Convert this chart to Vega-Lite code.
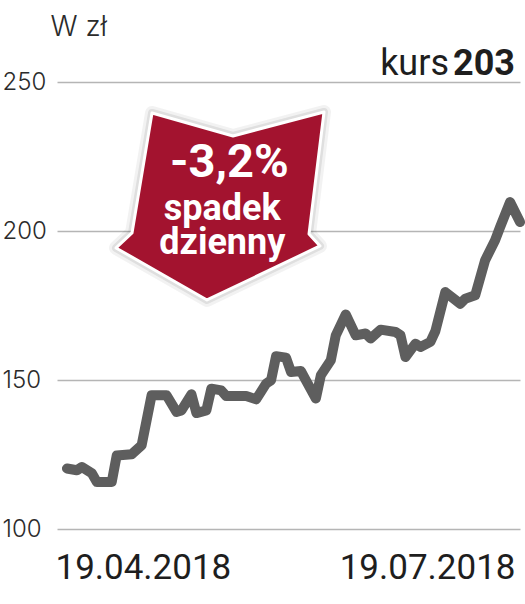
{
  "$schema": "https://vega.github.io/schema/vega-lite/v6.json",
  "autosize": {"type": "none"},
  "padding": {"left": 57, "top": 82, "right": 5, "bottom": 75},
  "width": 463,
  "height": 447,
  "background": "white",
  "config": {"view": {"stroke": null}, "font": "Roboto"},
  "datasets": {
    "prices": [
      {"date": "2018-04-19", "value": 120.3},
      {"date": "2018-04-21", "value": 119.7},
      {"date": "2018-04-22", "value": 120.8},
      {"date": "2018-04-24", "value": 118.7},
      {"date": "2018-04-25", "value": 115.8},
      {"date": "2018-04-28", "value": 115.8},
      {"date": "2018-04-29", "value": 124.7},
      {"date": "2018-05-02", "value": 125.1},
      {"date": "2018-05-04", "value": 128.1},
      {"date": "2018-05-06", "value": 144.9},
      {"date": "2018-05-09", "value": 144.9},
      {"date": "2018-05-11", "value": 139.3},
      {"date": "2018-05-12", "value": 139.8},
      {"date": "2018-05-14", "value": 145.2},
      {"date": "2018-05-15", "value": 138.9},
      {"date": "2018-05-17", "value": 139.8},
      {"date": "2018-05-18", "value": 147.1},
      {"date": "2018-05-20", "value": 146.5},
      {"date": "2018-05-21", "value": 144.6},
      {"date": "2018-05-25", "value": 144.6},
      {"date": "2018-05-27", "value": 143.5},
      {"date": "2018-05-29", "value": 148.8},
      {"date": "2018-05-30", "value": 149.9},
      {"date": "2018-05-31", "value": 158.0},
      {"date": "2018-06-02", "value": 157.5},
      {"date": "2018-06-03", "value": 152.7},
      {"date": "2018-06-05", "value": 153.0},
      {"date": "2018-06-06", "value": 149.9},
      {"date": "2018-06-08", "value": 143.8},
      {"date": "2018-06-09", "value": 151.6},
      {"date": "2018-06-11", "value": 156.6},
      {"date": "2018-06-12", "value": 165.0},
      {"date": "2018-06-14", "value": 172.0},
      {"date": "2018-06-16", "value": 165.0},
      {"date": "2018-06-18", "value": 165.6},
      {"date": "2018-06-19", "value": 163.9},
      {"date": "2018-06-21", "value": 166.9},
      {"date": "2018-06-24", "value": 166.1},
      {"date": "2018-06-25", "value": 165.0},
      {"date": "2018-06-26", "value": 157.7},
      {"date": "2018-06-28", "value": 162.2},
      {"date": "2018-06-29", "value": 161.1},
      {"date": "2018-07-01", "value": 162.8},
      {"date": "2018-07-02", "value": 166.4},
      {"date": "2018-07-04", "value": 179.5},
      {"date": "2018-07-07", "value": 175.6},
      {"date": "2018-07-08", "value": 177.3},
      {"date": "2018-07-10", "value": 178.4},
      {"date": "2018-07-12", "value": 190.2},
      {"date": "2018-07-14", "value": 196.9},
      {"date": "2018-07-15", "value": 201.3},
      {"date": "2018-07-17", "value": 209.7},
      {"date": "2018-07-19", "value": 203.0}
    ],
    "note": [{"change": "-3,2%", "label": "spadek\ndzienny"}]
  },
  "data": {"name": "prices"},
  "layer": [
    {
      "mark": {"type": "line", "color": "#5e5e5e", "strokeWidth": 10, "strokeJoin": "round", "strokeCap": "round"},
      "encoding": {
        "x": {
          "field": "date", "type": "temporal",
          "scale": {"domain": [{"year": 2018, "month": 4, "date": 17, "utc": true}, {"year": 2018, "month": 7, "date": 19, "utc": true}]},
          "axis": {
            "values": [{"year": 2018, "month": 4, "date": 19, "utc": true}, {"year": 2018, "month": 7, "date": 19, "utc": true}],
            "labelExpr": "utcFormat(datum.value, '%d.%m.%Y')",
            "labelAlign": {"condition": {"test": "datum.value < 1527811200000", "value": "left"}, "value": "right"},
            "labelOffset": {"condition": {"test": "datum.value < 1527811200000", "value": -12}, "value": -5},
            "labelFont": "Roboto", "labelFontSize": 35, "labelColor": "#1e1e1e",
            "labelPadding": 21, "ticks": false, "domain": false, "grid": false, "title": null
          }
        },
        "y": {
          "field": "value", "type": "quantitative",
          "scale": {"domain": [100, 250], "nice": false, "zero": false},
          "axis": {
            "values": [100, 150, 200, 250],
            "grid": true, "gridColor": "#b5b5b5", "gridWidth": 1.6,
            "domain": false, "ticks": false,
            "labelFont": "Inter", "labelFontWeight": 300, "labelFontSize": 24, "labelColor": "#2b2b2b",
            "labelAlign": "left", "labelPadding": 55, "labelBaseline": "middle",
            "title": "W zł", "titleAngle": 0, "titleAlign": "left", "titleBaseline": "alphabetic",
            "titleX": -7, "titleY": -47,
            "titleFont": "Inter", "titleFontWeight": 300, "titleFontSize": 28, "titleColor": "#2b2b2b"
          }
        }
      }
    },
    {
      "mark": {"type": "text", "font": "Roboto", "fontWeight": "bold", "fontSize": 36, "align": "right", "baseline": "alphabetic", "dx": -5, "dy": -7, "color": "#1e1e1e"},
      "encoding": {
        "x": {"field": "date", "type": "temporal", "aggregate": "max"},
        "y": {"datum": 250},
        "text": {"field": "value", "aggregate": {"argmax": "date"}, "type": "quantitative", "format": ".0f"}
      }
    },
    {
      "mark": {"type": "text", "font": "Roboto", "fontSize": 36, "align": "right", "baseline": "alphabetic", "dx": -71, "dy": -7, "color": "#1e1e1e", "text": "kurs"},
      "encoding": {
        "x": {"field": "date", "type": "temporal", "aggregate": "max"},
        "y": {"datum": 250}
      }
    },
    {
      "data": {"name": "note"},
      "mark": {"type": "point", "filled": false, "fillOpacity": 0, "stroke": "#000000", "strokeOpacity": 0.05, "strokeWidth": 14, "strokeJoin": "round",
        "shape": "M-0.643,-0.942L0.167,-0.712L1.077,-0.952L0.927,0.268L1.037,0.388L-0.093,0.928L-1.003,0.408L-0.843,0.258Z", "size": 40000},
      "encoding": {
        "x": {"datum": {"year": 2018, "month": 5, "date": 19, "utc": true}, "type": "temporal"},
        "y": {"datum": 208}
      }
    },
    {
      "data": {"name": "note"},
      "mark": {"type": "point", "filled": false, "fillOpacity": 0, "stroke": "#000000", "strokeOpacity": 0.08, "strokeWidth": 8, "strokeJoin": "round",
        "shape": "M-0.643,-0.942L0.167,-0.712L1.077,-0.952L0.927,0.268L1.037,0.388L-0.093,0.928L-1.003,0.408L-0.843,0.258Z", "size": 40000},
      "encoding": {
        "x": {"datum": {"year": 2018, "month": 5, "date": 19, "utc": true}, "type": "temporal"},
        "y": {"datum": 208}
      }
    },
    {
      "data": {"name": "note"},
      "mark": {"type": "point", "filled": true, "fill": "#a3132f", "fillOpacity": 1, "opacity": 1, "stroke": "white", "strokeWidth": 3, "strokeJoin": "round",
        "shape": "M-0.643,-0.942L0.167,-0.712L1.077,-0.952L0.927,0.268L1.037,0.388L-0.093,0.928L-1.003,0.408L-0.843,0.258Z", "size": 40000},
      "encoding": {
        "x": {"datum": {"year": 2018, "month": 5, "date": 19, "utc": true}, "type": "temporal"},
        "y": {"datum": 208}
      }
    },
    {
      "data": {"name": "note"},
      "mark": {"type": "text", "font": "Roboto", "fontWeight": "bold", "fontSize": 47, "align": "center", "baseline": "alphabetic", "dx": 13, "dy": -30, "color": "white"},
      "encoding": {
        "x": {"datum": {"year": 2018, "month": 5, "date": 19, "utc": true}, "type": "temporal"},
        "y": {"datum": 208},
        "text": {"field": "change"}
      }
    },
    {
      "data": {"name": "note"},
      "mark": {"type": "text", "font": "Roboto", "fontWeight": "bold", "fontSize": 36, "lineBreak": "\n", "lineHeight": 34, "align": "center", "baseline": "alphabetic", "dx": 6, "dy": 13, "color": "white"},
      "encoding": {
        "x": {"datum": {"year": 2018, "month": 5, "date": 19, "utc": true}, "type": "temporal"},
        "y": {"datum": 208},
        "text": {"field": "label"}
      }
    }
  ]
}
